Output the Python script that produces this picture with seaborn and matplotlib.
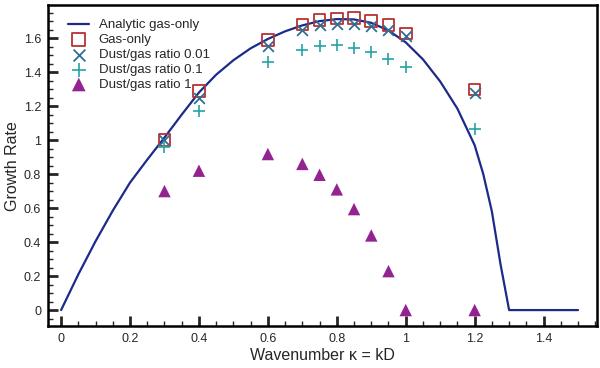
import matplotlib
matplotlib.use('Agg')
import matplotlib.pyplot as plt
import seaborn as sns
import pandas as pd
from matplotlib.ticker import MultipleLocator, FormatStrFormatter

# analytic gas-only growth rate
k_analytic = [0, 0.05, 0.1, 0.15, 0.2, 0.25, 0.3, 0.35, 0.4, 0.45, 0.5, 0.55,
              0.6, 0.65, 0.7, 0.75, 0.8, 0.85, 0.9, 0.95, 1.0, 1.05, 1.1, 1.15,
              1.2, 1.225, 1.25, 1.275, 1.3, 1.5]
rate_analytic = [0, 0.21, 0.405, 0.585, 0.75, 0.885, 1.015, 1.15, 1.28, 1.385, 1.47, 1.54,
                 1.595, 1.64, 1.675, 1.70, 1.712, 1.71, 1.69, 1.645, 1.575, 1.475, 1.345, 1.185,
                 0.97, 0.80, 0.58, 0.27, 0, 0]

# simulation wavenumbers
k_sim = [0.3, 0.4, 0.6, 0.7, 0.75, 0.8, 0.85, 0.9, 0.95, 1.0, 1.2]
rate_gas = [1.0, 1.29, 1.59, 1.68, 1.706, 1.716, 1.72, 1.70, 1.676, 1.627, 1.298]
rate_d001 = [1.0, 1.25, 1.555, 1.65, 1.675, 1.685, 1.685, 1.67, 1.65, 1.61, 1.28]
rate_d01 = [0.96, 1.17, 1.46, 1.53, 1.553, 1.559, 1.543, 1.52, 1.48, 1.43, 1.063]
rate_d1 = [0.70, 0.82, 0.918, 0.86, 0.796, 0.71, 0.594, 0.439, 0.229, 0, 0]

sns.set_theme(style='ticks')
plt.rcParams['font.family'] = ['Liberation Sans', 'DejaVu Sans']

fig = plt.figure(figsize=(6, 3.68), dpi=100)
ax = fig.add_axes([0.08, 0.114, 0.915, 0.872])

analytic = pd.DataFrame({'k': k_analytic, 'rate': rate_analytic})
sims = pd.DataFrame({'k': k_sim, 'gas': rate_gas, 'd001': rate_d001,
                     'd01': rate_d01, 'd1': rate_d1})

sns.lineplot(data=analytic, x='k', y='rate', ax=ax, color='#1c2a8a', lw=1.6,
             label='Analytic gas-only')
sns.scatterplot(data=sims, x='k', y='gas', ax=ax, marker='s', s=70,
                facecolor='none', edgecolor='#b83232', linewidth=1.3,
                label='Gas-only', zorder=3)
sns.scatterplot(data=sims, x='k', y='d001', ax=ax, marker='x', s=60,
                color='#2f6f94', linewidth=1.3, label='Dust/gas ratio 0.01', zorder=4)
sns.scatterplot(data=sims, x='k', y='d01', ax=ax, marker='+', s=80,
                color='#26a3a3', linewidth=1.2, label='Dust/gas ratio 0.1', zorder=4)
sns.scatterplot(data=sims, x='k', y='d1', ax=ax, marker='^', s=80,
                color='#932390', edgecolor='none', label='Dust/gas ratio 1', zorder=4)

ax.set_xlim(-0.038, 1.555)
ax.set_ylim(-0.094, 1.794)
ax.xaxis.set_major_locator(MultipleLocator(0.2))
ax.xaxis.set_minor_locator(MultipleLocator(0.05))
ax.yaxis.set_major_locator(MultipleLocator(0.2))
ax.yaxis.set_minor_locator(MultipleLocator(0.05))
ax.xaxis.set_major_formatter(FormatStrFormatter('%g'))
ax.yaxis.set_major_formatter(FormatStrFormatter('%g'))
ax.tick_params(which='major', direction='in', length=7, width=2.0, labelsize=9,
               top=False, right=False, pad=5)
ax.tick_params(which='minor', direction='in', length=3.5, width=1.0,
               top=False, right=False)
for sp in ax.spines.values():
    sp.set_linewidth(1.8)
    sp.set_color('black')

ax.set_xlabel('Wavenumber \u03ba = kD', fontsize=11.5, labelpad=2)
ax.set_ylabel('Growth Rate', fontsize=11.5, labelpad=3)

leg = ax.legend(loc='upper left', frameon=False, fontsize=9.5, markerscale=1.1,
                handlelength=1.6, handletextpad=0.7, labelspacing=0.2,
                borderaxespad=0.3, bbox_to_anchor=(0.02, 0.985))

fig.savefig('out.png', dpi=100)
